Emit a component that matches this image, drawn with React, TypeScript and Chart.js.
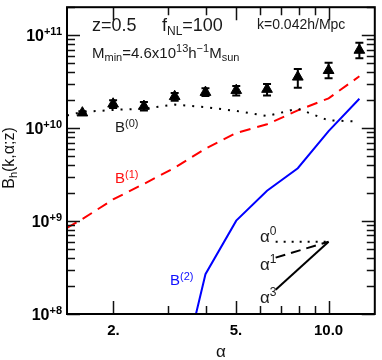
import React, { useEffect, useRef } from "react";
import { Chart, registerables } from "chart.js";

Chart.register(...registerables);

// Simulation points (triangles with error bars)
const alphaSim = [1.585, 1.995, 2.512, 3.162, 3.981, 5.012, 6.31, 7.943, 10.0, 12.59];
const bSim = [1.46e10, 1.82e10, 1.72e10, 2.19e10, 2.43e10, 2.55e10, 2.62e10, 3.55e10, 4.18e10, 6.9e10];
const bSimLo = [1.41e10, 1.65e10, 1.55e10, 1.97e10, 2.22e10, 2.24e10, 2.24e10, 2.72e10, 3.44e10, 5.64e10];
const bSimHi = [1.52e10, 2.0e10, 1.91e10, 2.38e10, 2.68e10, 2.84e10, 2.98e10, 4.32e10, 5.04e10, 8.3e10];

// Model curves
const alphaModel = [1.413, 1.585, 1.995, 2.512, 3.162, 3.981, 5.012, 6.31, 7.943, 10.0, 12.59];
const b0Model = [1.37e10, 1.49e10, 1.57e10, 1.62e10, 1.79e10, 1.68e10, 1.53e10, 1.35e10, 1.62e10, 1.21e10, 1.18e10];
const b1Model = [8.44e8, 1.05e9, 1.71e9, 2.51e9, 3.75e9, 6.01e9, 8.86e9, 1.1e10, 1.55e10, 2.09e10, 3.61e10];
const alphaB2 = [3.162, 3.981, 5.012, 6.31, 7.943, 10.0, 12.59];
const b2Model = [1.1e7, 2.68e8, 1.01e9, 2.12e9, 3.7e9, 9.3e9, 2.07e10];

// Slope guide lines
const slopeX = [6.73, 10.0];
const slope0 = [6.0e8, 6.0e8];
const slope1 = [4.04e8, 6.0e8];
const slope3 = [1.82e8, 6.0e8];

// Axis ticks
const xMajor = [2, 5, 10];
const xMajorLabels = ["2.", "5.", "10.0"];
const xMinor = [3, 4, 6, 7, 8, 9];
const yDecades = [8, 9, 10, 11];

const FONT = '"Liberation Sans", Arial, Helvetica, sans-serif';

type Part = [string, number, number, boolean?];

function fontOf(size: number, bold?: boolean) {
  return `${bold ? "bold " : ""}${size}px ${FONT}`;
}

function richWidth(ctx: CanvasRenderingContext2D, parts: Part[]) {
  let w = 0;
  for (const [t, s, , b] of parts) {
    ctx.font = fontOf(s, b);
    w += ctx.measureText(t).width;
  }
  return w;
}

function drawRich(
  ctx: CanvasRenderingContext2D,
  x: number,
  y: number,
  parts: Part[],
  align: "left" | "center" | "right",
  color: string
) {
  const w = richWidth(ctx, parts);
  let cx = align === "left" ? x : align === "center" ? x - w / 2 : x - w;
  ctx.fillStyle = color;
  ctx.textAlign = "left";
  ctx.textBaseline = "alphabetic";
  for (const [t, s, dy, b] of parts) {
    ctx.font = fontOf(s, b);
    ctx.fillText(t, cx, y + dy);
    cx += ctx.measureText(t).width;
  }
}

const pts = (xs: number[], ys: number[]) => xs.map((x, i) => ({ x, y: ys[i] }));

const decorPlugin = {
  id: "decor",
  afterDatasetsDraw(chart: any) {
    const ctx: CanvasRenderingContext2D = chart.ctx;
    const xs = chart.scales.x;
    const ys = chart.scales.y;
    ctx.save();
    // error bars
    ctx.strokeStyle = "#000";
    ctx.lineWidth = 2;
    for (let i = 0; i < alphaSim.length; i++) {
      const px = xs.getPixelForValue(alphaSim[i]);
      const p1 = ys.getPixelForValue(bSimLo[i]);
      const p2 = ys.getPixelForValue(bSimHi[i]);
      ctx.beginPath();
      ctx.moveTo(px, p1);
      ctx.lineTo(px, p2);
      ctx.moveTo(px - 4, p1);
      ctx.lineTo(px + 4, p1);
      ctx.moveTo(px - 4, p2);
      ctx.lineTo(px + 4, p2);
      ctx.stroke();
    }
    ctx.restore();
  },
  afterDraw(chart: any) {
    const ctx: CanvasRenderingContext2D = chart.ctx;
    const a = chart.chartArea;
    const xs = chart.scales.x;
    const ys = chart.scales.y;
    ctx.save();
    // ticks
    ctx.strokeStyle = "#111";
    ctx.lineWidth = 1.5;
    const majLen = 13;
    const minLen = 8;
    ctx.beginPath();
    for (const v of xMajor) {
      const px = Math.round(xs.getPixelForValue(v)) + 0.5;
      ctx.moveTo(px, a.bottom);
      ctx.lineTo(px, a.bottom - majLen);
      ctx.moveTo(px, a.top);
      ctx.lineTo(px, a.top + majLen);
    }
    for (const v of xMinor) {
      const px = Math.round(xs.getPixelForValue(v)) + 0.5;
      ctx.moveTo(px, a.bottom);
      ctx.lineTo(px, a.bottom - minLen);
      ctx.moveTo(px, a.top);
      ctx.lineTo(px, a.top + minLen);
    }
    for (const d of yDecades) {
      for (let k = 1; k <= 9; k++) {
        const v = k * Math.pow(10, d);
        if (v > ys.max * 1.0001 || v < ys.min * 0.9999) continue;
        const py = Math.round(ys.getPixelForValue(v)) + 0.5;
        const len = k === 1 ? majLen : minLen;
        ctx.moveTo(a.left, py);
        ctx.lineTo(a.left + len, py);
        ctx.moveTo(a.right, py);
        ctx.lineTo(a.right - len, py);
      }
    }
    ctx.stroke();
    // frame
    ctx.lineWidth = 2;
    ctx.strokeStyle = "#000";
    ctx.strokeRect(a.left, a.top, a.right - a.left, a.bottom - a.top);

    // y tick labels
    for (const d of yDecades) {
      const py = ys.getPixelForValue(Math.pow(10, d));
      drawRich(ctx, a.left - 5, py + 6, [["10", 16, 0, true], ["+" + d, 11, -6, true]], "right", "#000");
    }
    // x tick labels
    xMajor.forEach((v, i) => {
      const px = xs.getPixelForValue(v);
      drawRich(ctx, px, 335, [[xMajorLabels[i], 15, 0, true]], "center", "#000");
    });
    // x title
    drawRich(ctx, (a.left + a.right) / 2, 357, [["α", 17, 0]], "center", "#111");
    // y title
    ctx.save();
    ctx.translate(14, 158);
    ctx.rotate(-Math.PI / 2);
    drawRich(ctx, 0, 0, [["B", 16, 0], ["h", 11, 3], ["(k,α;z)", 16, 0]], "center", "#111");
    ctx.restore();

    const tc = "#1a1a1a";
    drawRich(ctx, 92, 31, [["z=0.5", 18, 0]], "left", tc);
    drawRich(ctx, 162, 31, [["f", 18, 0], ["NL", 12, 4], ["=100", 18, 0]], "left", tc);
    drawRich(ctx, 257, 29, [["k=0.042h/Mpc", 14, 0]], "left", tc);
    drawRich(
      ctx,
      92,
      58,
      [
        ["M", 15, 0],
        ["min", 11, 3],
        ["=4.6x10", 15, 0],
        ["13", 11, -6],
        ["h", 15, 0],
        ["−1", 11, -6],
        ["M", 15, 0],
        ["sun", 11, 3],
      ],
      "left",
      tc
    );
    drawRich(ctx, 115, 131.5, [["B", 15, 0], ["(0)", 11, -5]], "left", tc);
    drawRich(ctx, 115, 183, [["B", 15, 0], ["(1)", 11, -5]], "left", "#ff1010");
    drawRich(ctx, 170, 285, [["B", 15, 0], ["(2)", 11, -5]], "left", "#1010ff");
    drawRich(ctx, 260, 242, [["α", 17, 0], ["0", 12, -7]], "left", tc);
    drawRich(ctx, 260, 270, [["α", 17, 0], ["1", 12, -7]], "left", tc);
    drawRich(ctx, 260, 303, [["α", 17, 0], ["3", 12, -7]], "left", tc);
    ctx.restore();
  },
};

export default function App() {
  const ref = useRef<HTMLCanvasElement | null>(null);
  useEffect(() => {
    if (!ref.current) return;
    const chart = new Chart(ref.current, {
      type: "line",
      data: {
        datasets: [
          {
            data: pts(alphaModel, b0Model),
            borderColor: "#000",
            borderWidth: 2,
            borderDash: [2, 7],
            pointRadius: 0,
            fill: false,
          },
          {
            data: pts(alphaModel, b1Model),
            borderColor: "#ff0000",
            borderWidth: 2,
            borderDash: [11, 7],
            pointRadius: 0,
            fill: false,
          },
          {
            data: pts(alphaB2, b2Model),
            borderColor: "#0000ff",
            borderWidth: 2,
            pointRadius: 0,
            fill: false,
          },
          {
            data: pts(slopeX, slope0),
            borderColor: "#000",
            borderWidth: 2,
            borderDash: [2, 6],
            pointRadius: 0,
          },
          {
            data: pts(slopeX, slope1),
            borderColor: "#000",
            borderWidth: 2,
            borderDash: [10, 6],
            pointRadius: 0,
          },
          {
            data: pts(slopeX, slope3),
            borderColor: "#000",
            borderWidth: 2,
            pointRadius: 0,
          },
          {
            data: pts(alphaSim, bSim),
            showLine: false,
            pointStyle: "triangle",
            pointRadius: 6.2,
            backgroundColor: "#000",
            borderColor: "#000",
            borderWidth: 1,
          },
        ],
      },
      options: {
        animation: false,
        responsive: false,
        layout: { padding: { left: 67, right: 1, top: 1, bottom: 46 } },
        scales: {
          x: { type: "logarithmic", min: 1.413, max: 14.13, display: false },
          y: { type: "logarithmic", min: 1e8, max: 2e11, display: false },
        },
        plugins: { legend: { display: false }, tooltip: { enabled: false } },
      },
      plugins: [decorPlugin],
    } as any);
    return () => chart.destroy();
  }, []);
  return (
    <div style={{ position: "absolute", left: 0, top: 0, width: 382, height: 360, background: "#fff" }}>
      <canvas ref={ref} width={382} height={360} style={{ display: "block" }} />
    </div>
  );
}
